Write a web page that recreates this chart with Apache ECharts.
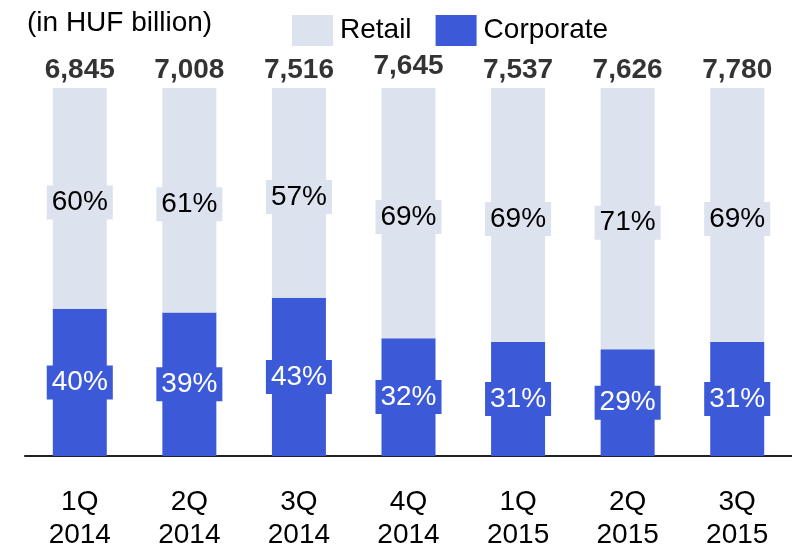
<!DOCTYPE html>
<html><head><meta charset="utf-8">
<script src="https://cdn.jsdelivr.net/npm/echarts@6/dist/echarts.min.js"></script>
<style>html,body{margin:0;padding:0;background:#fff}#c{width:792px;height:552px}</style>
</head><body><div id="c"></div>
<script>
const categories = ['1Q\n2014','2Q\n2014','3Q\n2014','4Q\n2014','1Q\n2015','2Q\n2015','3Q\n2015'];
const corporatePct = [40,39,43,32,31,29,31];
const retailPct = [60,61,57,69,69,71,69];
const totals = ['6,845','7,008','7,516','7,645','7,537','7,626','7,780'];

const RETAIL = '#DCE2EE', CORP = '#3C5AD8';
const FF = 'Liberation Sans, Arial, sans-serif';

const chart = echarts.init(document.getElementById('c'), null, {renderer:'canvas'});
chart.setOption({
  animation:false,
  title:{text:'(in HUF billion)', left:22, top:4, textStyle:{fontFamily:FF,fontSize:28,fontWeight:'normal',color:'#000'}},
  legend:{left:287, top:10, itemWidth:41, itemHeight:31, itemGap:24, icon:'rect',
    data:['Retail','Corporate'],
    textStyle:{fontFamily:FF,fontSize:28,color:'#000',padding:[0,0,0,2]}},
  grid:{left:25, top:88, width:770, bottom:94},
  xAxis:{type:'category', data:categories,
    axisLine:{lineStyle:{color:'#222',width:2}}, axisTick:{show:false},
    axisLabel:{fontFamily:FF,fontSize:28,color:'#000',lineHeight:33,margin:30}},
  yAxis:{type:'value',min:0,max:100,show:false,splitLine:{show:false}},
  series:[
    {name:'Corporate',type:'bar',stack:'s',barWidth:54,data:corporatePct,
     itemStyle:{color:CORP},
     label:{show:true,position:'inside',formatter:p=>p.value+'%',fontFamily:FF,fontSize:28,color:'#fff',
       backgroundColor:CORP,padding:[3,5,3,5]}},
    {name:'Retail',type:'bar',stack:'s',barWidth:54,data:retailPct,
     itemStyle:{color:RETAIL},
     label:{show:true,position:'inside',offset:[0,4],formatter:p=>p.value+'%',fontFamily:FF,fontSize:28,color:'#000',
       backgroundColor:RETAIL,padding:[3,5,3,5]}},
    {name:'Total',type:'scatter',symbolSize:0,clip:false,silent:true,
     data:corporatePct.map((c,i)=>c+retailPct[i]),
     label:{show:true,position:'top',distance:4,formatter:p=>totals[p.dataIndex],
       fontFamily:FF,fontSize:28,fontWeight:'bold',color:'#000'}}
  ]
});
</script></body></html>
